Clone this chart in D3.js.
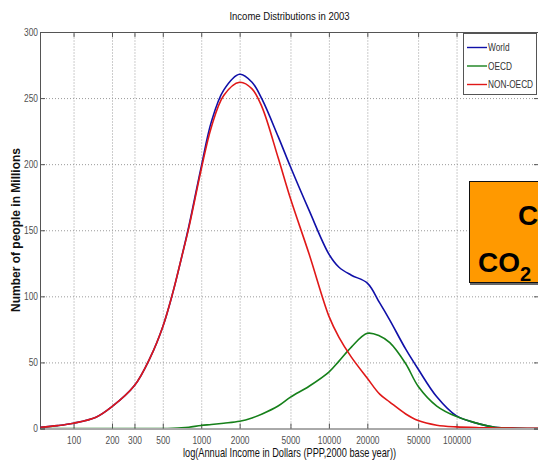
<!DOCTYPE html>
<html>
<head>
<meta charset="utf-8">
<script src="https://cdn.jsdelivr.net/npm/d3@7"></script>
<style>
  body { margin: 0; background: #fff; }
  svg text { font-family: 'Liberation Sans', Arial, sans-serif; }
  .grid line { stroke: #9a9a9a; stroke-dasharray: 1 2; }
  .grid .domain { display: none; }
</style>
</head>
<body>
<div class="root"></div>
<script>
// incomes in dollars (PPP), read along the log axis
var incomes = [55, 75, 100, 150, 200, 300, 400, 500, 600, 700, 800, 1000, 1200, 1500, 2000, 2500, 3000,
  4000, 5000, 7000, 10000, 12000, 15000, 20000, 25000, 30000, 40000, 50000, 70000, 100000, 150000,
  200000, 300000, 460000];

// millions of people
var world   = [1, 2.2, 4, 8.5, 16.5, 32.5, 54, 77, 103, 129, 153, 198, 232, 256, 268, 262, 249,
  221, 198, 165, 132, 122, 116, 110, 95, 82, 60, 45, 24, 9.5, 3.5, 1, 0.2, 0];
var oecd    = [0, 0, 0, 0, 0, 0, 0, 0, 0.2, 0.5, 1, 2.3, 3, 4, 5.5, 8, 11,
  17, 23.7, 32, 42.7, 51, 61.6, 72, 70, 65, 49, 32, 17, 9, 3.5, 1, 0.1, 0];
var nonOecd = [1, 2.2, 4, 8.5, 16.5, 32.5, 54, 77, 103, 129, 152, 196, 228, 252, 262, 257, 243,
  205, 174, 132, 85, 69, 54, 38, 26, 20, 11, 6, 2.5, 1.2, 0.6, 0.4, 0.2, 0.1];

var seriesNames  = ['World', 'OECD', 'NON-OECD'];
var seriesColors = ['#1010a8', '#16801a', '#e01818'];

var xTicks = [100, 200, 300, 500, 1000, 2000, 5000, 10000, 20000, 50000, 100000];
var yTicks = [0, 50, 100, 150, 200, 250, 300];

// no narrow font installed, so squeeze text horizontally
function squeeze(sel, k) {
  sel.attr('transform', 'scale(' + k + ',1)')
    .attr('x', function() { return +d3.select(this).attr('x') / k; });
}

function drawChart() {
  var W = 538, H = 468;
  var left = 40, right = 539, top = 32, bottom = 428.5;

  var svg = d3.select('.root').append('svg')
    .attr('width', W)
    .attr('height', H);

  var x = d3.scaleLog().domain([Math.exp(4), Math.exp(13)]).range([left, right]);
  var y = d3.scaleLinear().domain([0, 300]).range([bottom, top]);

  svg.append('defs').append('clipPath').attr('id', 'plotclip')
    .append('rect')
      .attr('x', left).attr('y', top - 2)
      .attr('width', right - left).attr('height', bottom - top + 1.5);

  // dotted grid
  svg.append('g')
    .attr('class', 'grid')
    .attr('transform', 'translate(0,' + bottom + ')')
    .call(d3.axisBottom(x).tickValues(xTicks).tickSize(-(bottom - top)).tickFormat(''));
  svg.append('g')
    .attr('class', 'grid')
    .attr('transform', 'translate(' + left + ',0)')
    .call(d3.axisLeft(y).tickValues(yTicks.slice(1, -1)).tickSize(-(right - left)).tickFormat(''));

  // axes, ticks pointing inwards like matlab
  var xAxis = svg.append('g')
    .attr('class', 'axis')
    .attr('transform', 'translate(0,' + bottom + ')')
    .call(d3.axisBottom(x).tickValues(xTicks).tickSize(-5).tickPadding(8).tickFormat(d3.format('d')));
  var yAxis = svg.append('g')
    .attr('class', 'axis')
    .attr('transform', 'translate(' + left + ',0)')
    .call(d3.axisLeft(y).tickValues(yTicks).tickSize(-5).tickPadding(2));
  svg.append('g')
    .attr('class', 'axis')
    .attr('transform', 'translate(0,' + top + ')')
    .call(d3.axisTop(x).tickValues(xTicks).tickSize(-5).tickFormat(''));
  svg.append('g')
    .attr('class', 'axis')
    .attr('transform', 'translate(' + right + ',0)')
    .call(d3.axisRight(y).tickValues(yTicks).tickSize(-5).tickFormat(''));

  svg.selectAll('.axis .domain').attr('stroke', '#555');
  svg.selectAll('.axis .tick line').attr('stroke', '#555');
  svg.selectAll('.axis').attr('font-family', null);
  svg.selectAll('.axis text')
    .attr('font-size', 10.5)
    .attr('fill', '#505050')
    .call(squeeze, 0.8);

  // curves
  var series = [world, oecd, nonOecd];
  var line = d3.line()
    .x(function(d, i) { return x(incomes[i]); })
    .y(function(d) { return y(d); })
    .curve(d3.curveCatmullRom.alpha(0.5));

  svg.append('g')
    .attr('clip-path', 'url(#plotclip)')
    .selectAll('path')
      .data(series)
      .enter().append('path')
        .attr('d', line)
        .attr('fill', 'none')
        .attr('stroke', function(d, i) { return seriesColors[i]; })
        .attr('stroke-width', 1.6)
        .attr('stroke-linejoin', 'round');

  // titles
  svg.append('text')
    .attr('x', (left + right) / 2).attr('y', 20.5)
    .attr('text-anchor', 'middle')
    .attr('font-size', 11.5)
    .attr('fill', '#111')
    .text('Income Distributions in 2003')
    .call(squeeze, 0.83);

  svg.append('text')
    .attr('x', (left + right) / 2).attr('y', 457.5)
    .attr('text-anchor', 'middle')
    .attr('font-size', 12)
    .attr('fill', '#111')
    .text('log(Annual Income in Dollars (PPP,2000 base year))')
    .call(squeeze, 0.77);

  svg.append('text')
    .attr('transform', 'translate(20,230) rotate(-90)')
    .attr('text-anchor', 'middle')
    .attr('font-weight', 'bold')
    .attr('font-size', 12)
    .attr('fill', '#111')
    .text('Number of people in Millions');

  // legend
  var legend = svg.append('g');
  legend.append('rect')
    .attr('x', 463.5).attr('y', 33.5)
    .attr('width', 73).attr('height', 61)
    .attr('fill', '#fff')
    .attr('stroke', '#555');
  var items = legend.selectAll('g.item')
    .data(seriesNames)
    .enter().append('g')
      .attr('class', 'item')
      .attr('transform', function(d, i) { return 'translate(467,' + (47.5 + i * 18.5) + ')'; });
  items.append('line')
    .attr('x1', 0).attr('x2', 20)
    .attr('stroke', function(d, i) { return seriesColors[i]; })
    .attr('stroke-width', 1.4);
  items.append('text')
    .attr('x', 21).attr('dy', '0.35em')
    .attr('font-size', 10)
    .attr('fill', '#333')
    .text(function(d) { return d; })
    .call(squeeze, 0.83);

  // orange slide box overlapping the right side
  var box = svg.append('g').attr('font-weight', 'bold');
  box.append('rect')
    .attr('x', 470).attr('y', 183)
    .attr('width', 100).attr('height', 102)
    .attr('fill', '#666');
  box.append('rect')
    .attr('x', 469.5).attr('y', 181.5)
    .attr('width', 100).attr('height', 101)
    .attr('fill', '#ff9900')
    .attr('stroke', '#111');
  box.append('text')
    .attr('x', 518).attr('y', 224.5)
    .attr('font-size', 28)
    .attr('fill', '#000')
    .text('C');
  var co2 = box.append('text')
    .attr('x', 478).attr('y', 272)
    .attr('font-size', 28)
    .attr('fill', '#000');
  co2.append('tspan').text('CO');
  co2.append('tspan').attr('font-size', 20).attr('dy', 9).text('2');
}

window.onload = function() {
  drawChart();
}
</script>
</body>
</html>
